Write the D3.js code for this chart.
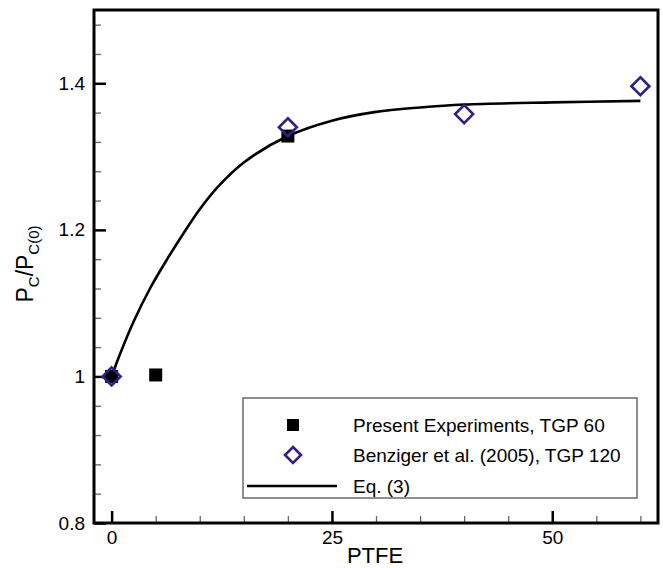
<!DOCTYPE html>
<html>
<head>
<meta charset="utf-8">
<script src="https://cdn.jsdelivr.net/npm/d3@7"></script>
<style>
  html, body { margin: 0; padding: 0; background: #fff; }
  svg { display: block; font-family: "Liberation Sans", Arial, Helvetica, sans-serif; }
</style>
</head>
<body>
<svg id="chart" width="663" height="568"></svg>
<script>
// ---- data ----
const presentPTFE = [0, 5, 20];
const presentRatio = [1.0, 1.002, 1.328];
const benzigerPTFE = [0, 20, 40, 60];
const benzigerRatio = [1.0, 1.34, 1.358, 1.396];
const eqPTFE  = [0, 1, 2.5, 4.4, 6.3, 8.2, 10, 12, 15, 20, 25, 30, 35, 40, 50, 60];
const eqRatio = [1.0, 1.032, 1.075, 1.121, 1.160, 1.196, 1.228, 1.258, 1.292, 1.328, 1.349, 1.361, 1.367, 1.371, 1.374, 1.376];
const xMajorTicks = [0, 25, 50];
const xMinorTicks = [5, 10, 15, 20, 30, 35, 40, 45, 55, 60];
const yMajorTicks = [0.8, 1.0, 1.2, 1.4];
const yMinorTicks = [0.84, 0.88, 0.92, 0.96, 1.04, 1.08, 1.12, 1.16, 1.24, 1.28, 1.32, 1.36, 1.44, 1.48];
const yTickLabels = ["0.8", "1", "1.2", "1.4"];
const legendLabels = ["Present Experiments, TGP 60", "Benziger et al. (2005), TGP 120", "Eq. (3)"];

const svg = d3.select("#chart");
const L = 94, R = 658, T = 10, B = 523;
const x = d3.scaleLinear().domain([-2, 62]).range([L, R]);
const y = d3.scaleLinear().domain([0.8, 1.5]).range([B, T]);
const navy = "#2a2286";

// minor ticks (inward)
const xMinor = d3.axisBottom(x).tickValues(xMinorTicks).tickSize(-7).tickFormat("");
svg.append("g").attr("transform", `translate(0,${B})`).call(xMinor)
  .call(g => g.select(".domain").remove())
  .call(g => g.selectAll("line").attr("stroke", "#666").attr("stroke-width", 1.3));
const yMinor = d3.axisLeft(y).tickValues(yMinorTicks).tickSize(-7).tickFormat("");
svg.append("g").attr("transform", `translate(${L},0)`).call(yMinor)
  .call(g => g.select(".domain").remove())
  .call(g => g.selectAll("line").attr("stroke", "#666").attr("stroke-width", 1.3));

// major ticks
const xMajor = d3.axisBottom(x).tickValues(xMajorTicks).tickSize(-12).tickPadding(8).tickFormat(d3.format("d"));
svg.append("g").attr("transform", `translate(0,${B})`).call(xMajor)
  .call(g => g.select(".domain").remove())
  .call(g => g.selectAll("line").attr("stroke", "#000").attr("stroke-width", 2.5))
  .call(g => g.selectAll("text").attr("fill", "#000").attr("font-size", 19).attr("font-family", "Liberation Sans, Arial, sans-serif"));
const yMajor = d3.axisLeft(y).tickValues(yMajorTicks).tickSize(-12).tickPadding(9)
  .tickFormat((d, i) => yTickLabels[i]);
svg.append("g").attr("transform", `translate(${L},0)`).call(yMajor)
  .call(g => g.select(".domain").remove())
  .call(g => g.selectAll("line").attr("stroke", "#000").attr("stroke-width", 2.5))
  .call(g => g.selectAll("text").attr("fill", "#000").attr("font-size", 19).attr("font-family", "Liberation Sans, Arial, sans-serif"));

// frame
svg.append("rect").attr("x", L).attr("y", T).attr("width", R - L).attr("height", B - T)
  .attr("fill", "none").attr("stroke", "#000").attr("stroke-width", 3);

// curve
const eqData = eqPTFE.map((v, i) => [v, eqRatio[i]]);
const line = d3.line().x(d => x(d[0])).y(d => y(d[1])).curve(d3.curveCatmullRom.alpha(0.5));
svg.append("path").datum(eqData).attr("d", line)
  .attr("fill", "none").attr("stroke", "#000").attr("stroke-width", 2.6);

// squares
const sq = 13;
svg.selectAll("rect.present").data(presentPTFE.map((v, i) => [v, presentRatio[i]])).join("rect")
  .attr("class", "present")
  .attr("x", d => x(d[0]) - sq / 2).attr("y", d => y(d[1]) - sq / 2)
  .attr("width", sq).attr("height", sq).attr("fill", "#000");

// diamonds
const diamond = (cx, cy, r) => `M${cx},${cy - r}L${cx + r},${cy}L${cx},${cy + r}L${cx - r},${cy}Z`;
svg.selectAll("path.benz").data(benzigerPTFE.map((v, i) => [v, benzigerRatio[i]])).join("path")
  .attr("class", "benz")
  .attr("d", d => diamond(x(d[0]), y(d[1]), 9))
  .attr("fill", "none").attr("stroke", navy).attr("stroke-width", 2.6);

// axis titles
svg.append("text").attr("x", 375).attr("y", 563).attr("text-anchor", "middle")
  .attr("font-size", 22).attr("fill", "#000").text("PTFE");

const yl = svg.append("text").attr("transform", "translate(33,264) rotate(-90)")
  .attr("text-anchor", "middle").attr("font-size", 23).attr("fill", "#000");
yl.append("tspan").text("P");
yl.append("tspan").attr("font-size", 15).attr("dy", 6).text("C");
yl.append("tspan").attr("dy", -6).text("/P");
yl.append("tspan").attr("font-size", 15).attr("dy", 6).text("C(0)");

// legend
const lg = svg.append("g");
lg.append("rect").attr("x", 243).attr("y", 398).attr("width", 394).attr("height", 100)
  .attr("fill", "#fff").attr("stroke", "#444").attr("stroke-width", 1.2);
const rowY = [425, 455, 486];
lg.append("rect").attr("x", 293 - 6).attr("y", rowY[0] - 6).attr("width", 12).attr("height", 12).attr("fill", "#000");
lg.append("path").attr("d", diamond(293, rowY[1], 8)).attr("fill", "none").attr("stroke", navy).attr("stroke-width", 2.6);
lg.append("line").attr("x1", 247).attr("x2", 337).attr("y1", rowY[2]).attr("y2", rowY[2])
  .attr("stroke", "#000").attr("stroke-width", 2.6);
lg.selectAll("text.lt").data(legendLabels).join("text").attr("class", "lt")
  .attr("x", 353).attr("y", (d, i) => rowY[i] + 7)
  .attr("font-size", 19).attr("fill", "#000").text(d => d);
</script>
</body>
</html>
